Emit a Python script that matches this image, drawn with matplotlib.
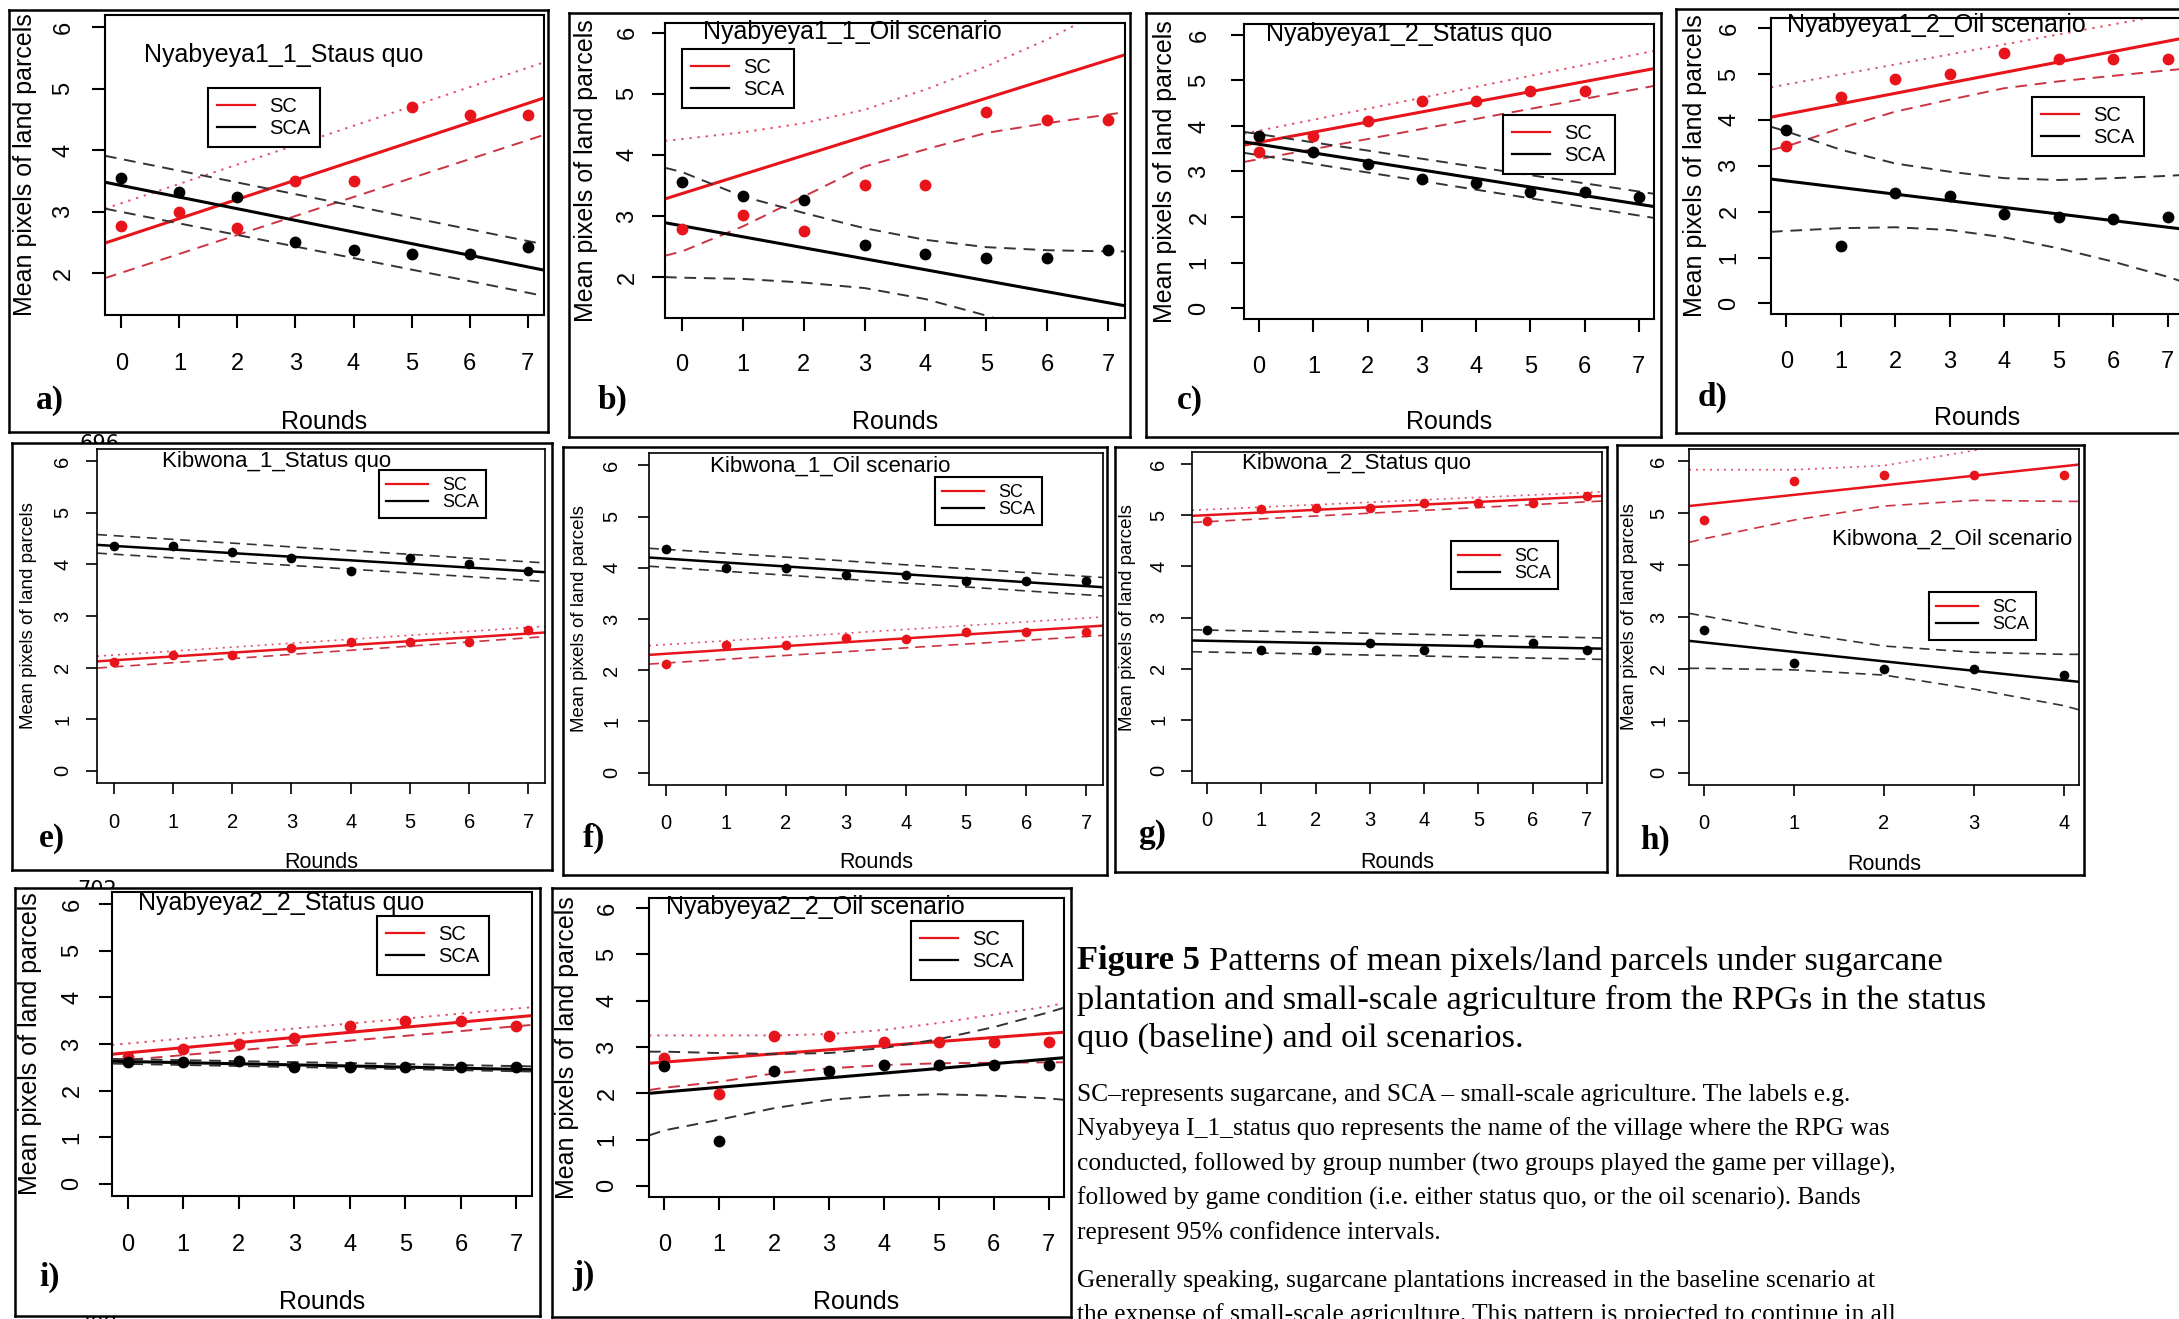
import matplotlib
matplotlib.use("Agg")
import matplotlib.pyplot as plt
from matplotlib.lines import Line2D

W, H = 2179, 1319

# ---- x positions ----
rounds = [0, 1, 2, 3, 4, 5, 6, 7]
rounds_short = [0, 1, 2, 3, 4]
rounds_c_sc = [0, 1, 2, 3, 4, 5, 6]
edge = [-0.28, 7.28]
edge_h = [-0.17, 4.17]
knots = [-0.28, 0, 1, 2, 3, 4, 5, 6, 7, 7.28]
knots_h = [-0.17, 0, 1, 2, 3, 4, 4.17]

titles = ["Nyabyeya1_1_Staus quo", "Nyabyeya1_1_Oil scenario",
          "Nyabyeya1_2_Status quo", "Nyabyeya1_2_Oil scenario",
          "Kibwona_1_Status quo", "Kibwona_1_Oil scenario",
          "Kibwona_2_Status quo", "Kibwona_2_Oil scenario",
          "Nyabyeya2_2_Status quo", "Nyabyeya2_2_Oil scenario"]
panel_labels = ["a)", "b)", "c)", "d)", "e)", "f)", "g)", "h)", "i)", "j)"]

# ---- values (SC = sugarcane, SCA = small-scale agric.) ----
# lines: 2 values -> at the x-limits, 10 (or 7) values -> at the knots
a_sc = [2.77, 2.99, 2.73, 3.50, 3.50, 4.70, 4.58, 4.57]
a_sca = [3.55, 3.32, 3.24, 2.50, 2.38, 2.31, 2.31, 2.42]
a_sc_fit, a_sc_hi, a_sc_lo = [2.49, 4.85], [3.05, 5.43], [1.92, 4.25]
a_sca_fit, a_sca_hi, a_sca_lo = [3.48, 2.05], [3.91, 2.47], [3.05, 1.63]

b_sc = [2.78, 3.01, 2.76, 3.50, 3.50, 4.70, 4.58, 4.58]
b_sca = [3.56, 3.33, 3.26, 2.52, 2.38, 2.32, 2.32, 2.44]
b_sc_fit = [3.28, 5.64]
b_sc_hi = [4.23, 4.26, 4.37, 4.52, 4.74, 5.07, 5.45, 5.89, 6.40, 6.60]
b_sc_lo = [2.35, 2.42, 2.83, 3.32, 3.81, 4.09, 4.36, 4.52, 4.66, 4.70]
b_sca_fit = [2.89, 1.53]
b_sca_hi = [3.79, 3.72, 3.32, 3.05, 2.80, 2.61, 2.49, 2.44, 2.42, 2.42]
b_sca_lo = [2.00, 1.99, 1.97, 1.91, 1.82, 1.64, 1.37, 1.05, 0.70, 0.60]

c_sc = [3.43, 3.77, 4.11, 4.54, 4.54, 4.77, 4.77]
c_sca = [3.77, 3.43, 3.16, 2.83, 2.75, 2.56, 2.56, 2.44]
c_sc_fit, c_sc_hi, c_sc_lo = [3.58, 5.26], [3.83, 5.65], [3.21, 4.88]
c_sca_fit, c_sca_hi, c_sca_lo = [3.65, 2.23], [3.87, 2.51], [3.41, 1.98]

d_sc = [3.44, 4.49, 4.89, 5.00, 5.45, 5.33, 5.33, 5.33]
d_sca = [3.78, 1.25, 2.40, 2.34, 1.95, 1.89, 1.83, 1.89]
d_sc_fit, d_sc_hi = [4.06, 5.78], [4.71, 6.36]
d_sc_lo = [3.35, 3.42, 3.82, 4.18, 4.44, 4.69, 4.84, 4.96, 5.08, 5.11]
d_sca_fit = [2.71, 1.62]
d_sca_hi = [3.85, 3.75, 3.35, 3.05, 2.87, 2.73, 2.69, 2.73, 2.78, 2.80]
d_sca_lo = [1.56, 1.58, 1.64, 1.66, 1.60, 1.44, 1.20, 0.91, 0.58, 0.47]

e_sc = [2.11, 2.25, 2.25, 2.38, 2.50, 2.50, 2.50, 2.73]
e_sca = [4.36, 4.36, 4.25, 4.12, 3.87, 4.12, 4.01, 3.87]
e_sc_fit, e_sc_hi, e_sc_lo = [2.12, 2.68], [2.22, 2.80], [1.99, 2.60]
e_sca_fit, e_sca_hi, e_sca_lo = [4.38, 3.85], [4.58, 4.03], [4.22, 3.67]

f_sc = [2.12, 2.50, 2.50, 2.63, 2.61, 2.74, 2.74, 2.74]
f_sca = [4.37, 3.99, 3.99, 3.86, 3.86, 3.75, 3.75, 3.75]
f_sc_fit, f_sc_hi, f_sc_lo = [2.30, 2.87], [2.48, 3.04], [2.12, 2.68]
f_sca_fit, f_sca_hi, f_sca_lo = [4.20, 3.62], [4.38, 3.81], [4.03, 3.45]

g_sc = [4.88, 5.12, 5.14, 5.14, 5.25, 5.25, 5.25, 5.38]
g_sca = [2.75, 2.37, 2.37, 2.50, 2.37, 2.50, 2.50, 2.37]
g_sc_fit, g_sc_hi, g_sc_lo = [4.99, 5.38], [5.10, 5.46], [4.86, 5.28]
g_sca_fit, g_sca_hi, g_sca_lo = [2.55, 2.39], [2.76, 2.60], [2.33, 2.18]

h_sc = [4.87, 5.62, 5.73, 5.73, 5.73]
h_sca = [2.75, 2.12, 2.00, 2.00, 1.88]
h_sc_fit = [5.14, 5.94]
h_sc_hi = [5.84, 5.84, 5.84, 5.92, 6.21, 6.55, 6.60]
h_sc_lo = [4.44, 4.51, 4.87, 5.14, 5.25, 5.23, 5.23]
h_sca_fit = [2.54, 1.75]
h_sca_hi = [3.07, 3.02, 2.70, 2.44, 2.32, 2.28, 2.28]
h_sca_lo = [2.01, 2.01, 1.98, 1.88, 1.61, 1.29, 1.21]

i_sc = [2.73, 2.89, 3.00, 3.13, 3.39, 3.50, 3.50, 3.38]
i_sca = [2.61, 2.61, 2.64, 2.50, 2.50, 2.50, 2.50, 2.50]
i_sc_fit, i_sc_hi, i_sc_lo = [2.78, 3.61], [2.98, 3.79], [2.63, 3.41]
i_sca_fit, i_sca_hi, i_sca_lo = [2.63, 2.45], [2.68, 2.52], [2.58, 2.41]

j_sc = [2.77, 1.99, 3.23, 3.23, 3.10, 3.10, 3.10, 3.10]
j_sca = [2.60, 0.98, 2.49, 2.49, 2.62, 2.62, 2.62, 2.62]
j_sc_fit = [2.65, 3.32]
j_sc_hi = [3.25, 3.25, 3.25, 3.25, 3.28, 3.37, 3.52, 3.70, 3.88, 3.95]
j_sc_lo = [2.07, 2.12, 2.25, 2.43, 2.54, 2.61, 2.65, 2.66, 2.67, 2.67]
j_sca_fit = [2.00, 2.77]
j_sca_hi = [2.90, 2.90, 2.87, 2.85, 2.87, 2.98, 3.17, 3.43, 3.75, 3.85]
j_sca_lo = [1.09, 1.20, 1.43, 1.68, 1.86, 1.95, 1.98, 1.95, 1.89, 1.86]

caption_head = ("Figure 5", "Patterns of mean pixels/land parcels under sugarcane")
caption_p1 = ["plantation and small-scale agriculture from the RPGs in the status",
              "quo (baseline) and oil scenarios."]
caption_p2 = ["SC\u2013represents sugarcane, and SCA \u2013 small-scale agriculture. The labels e.g.",
              "Nyabyeya I_1_status quo represents the name of the village where the RPG was",
              "conducted, followed by group number (two groups played the game per village),",
              "followed by game condition (i.e. either status quo, or the oil scenario). Bands",
              "represent 95% confidence intervals."]
caption_p3 = ["Generally speaking, sugarcane plantations increased in the baseline scenario at",
              "the expense of small-scale agriculture. This pattern is projected to continue in all"]

# ---- layout in pixels of the 2179x1319 picture ----
# box, plot area, ylim, x-ticklabel y, y-ticklabel x, xlabel y, ylabel x, title, legend corner, panel label
layout = {
    "a": dict(box=(9, 10, 548, 432), ax=(105, 15, 544, 315), ylim=(1.32, 6.2), xt=362, yt=61, xl=422, yl=25, tt=(284, 55), leg=(208, 88), lab=(50, 400), big=True),
    "b": dict(box=(569, 13, 1130, 437), ax=(665, 23, 1125, 318), ylim=(1.33, 6.16), xt=363, yt=625, xl=422, yl=586, tt=(852, 32), leg=(682, 49), lab=(612, 400), big=True),
    "c": dict(box=(1146, 13, 1661, 437), ax=(1244, 24, 1654, 319), ylim=(-0.24, 6.24), xt=365, yt=1197, xl=422, yl=1165, tt=(1409, 34), leg=(1503, 115), lab=(1190, 400), big=True),
    "d": dict(box=(1676, 9, 2200, 433), ax=(1771, 18, 2183, 314), ylim=(-0.23, 6.22), xt=360, yt=1727, xl=418, yl=1695, tt=(1936, 25), leg=(2032, 97), lab=(1713, 397), big=True),
    "e": dict(box=(12, 443, 552, 870), ax=(97, 449, 545, 783), ylim=(-0.24, 6.24), xt=820, yt=61, xl=863, yl=29, tt=(277, 462), leg=(379, 470), lab=(52, 838), big=False),
    "f": dict(box=(563, 447, 1107, 875), ax=(649, 453, 1103, 785), ylim=(-0.24, 6.24), xt=821, yt=610, xl=863, yl=579, tt=(830, 466), leg=(935, 477), lab=(594, 838), big=False),
    "g": dict(box=(1115, 447, 1607, 872), ax=(1192, 452, 1602, 783), ylim=(-0.24, 6.24), xt=818, yt=1157, xl=862, yl=1128, tt=(1357, 464), leg=(1451, 541), lab=(1152, 835), big=False),
    "h": dict(box=(1617, 445, 2084, 875), ax=(1689, 449, 2079, 785), ylim=(-0.24, 6.24), xt=821, yt=1657, xl=864, yl=1630, tt=(1952, 539), leg=(1929, 592), lab=(1655, 840), big=False),
    "i": dict(box=(15, 888, 540, 1316), ax=(112, 892, 532, 1196), ylim=(-0.26, 6.26), xt=1243, yt=70, xl=1302, yl=30, tt=(281, 903), leg=(377, 916), lab=(50, 1277), big=True),
    "j": dict(box=(552, 888, 1071, 1317), ax=(649, 898, 1064, 1197), ylim=(-0.24, 6.22), xt=1243, yt=605, xl=1302, yl=567, tt=(815, 907), leg=(911, 921), lab=(583, 1275), big=True),
}

RED = "#e8141c"
RED_DOT = "#e2506a"
RED_DASH = "#cc3444"
BLK_DASH = "#333333"
SANS = "Liberation Sans"
SERIF = "Liberation Serif"

plt.rcParams["font.family"] = SANS

fig = plt.figure(figsize=(W / 100, H / 100), dpi=100)
fig.patch.set_facecolor("white")


def frac_rect(r):
    x0, y0, x1, y1 = r
    return [x0 / W, 1 - y1 / H, (x1 - x0) / W, (y1 - y0) / H]


def draw_panel(key, title, label, sc_x, sc, sca_x, sca, sc_lines, sca_lines, xticks, xlim, edge_x, knot_x):
    L = layout[key]
    big = L["big"]
    if big:
        tick_fs, xlab_fs, ylab_fs, title_fs, leg_fs = 17, 18, 18, 18, 14.5
        ticklen, spine_lw, ms, fit_lw, band_lw = 13, 1.5, 8.5, 2.2, 1.4
        leg_kw = dict(handlelength=1.9, handletextpad=0.7, labelspacing=0.15, borderpad=0.45)
    else:
        tick_fs, xlab_fs, ylab_fs, title_fs, leg_fs = 14.5, 15.5, 13.5, 16, 13
        ticklen, spine_lw, ms, fit_lw, band_lw = 11, 1.2, 7, 1.8, 1.2
        leg_kw = dict(handlelength=2.3, handletextpad=0.8, labelspacing=0.0, borderpad=0.4)

    bg = fig.add_axes(frac_rect(L["box"]), zorder=0)
    bg.set_xticks([])
    bg.set_yticks([])
    for s in bg.spines.values():
        s.set_linewidth(1.8)

    ax = fig.add_axes(frac_rect(L["ax"]), zorder=1)
    x0, y0, x1, y1 = L["ax"]
    aw, ah = x1 - x0, y1 - y0

    styles = [dict(color=RED, lw=fit_lw), dict(color=RED_DOT, lw=band_lw, dashes=(1.2, 3)),
              dict(color=RED_DASH, lw=band_lw, dashes=(6, 4))]
    for vals, st in zip(sc_lines, styles):
        xs = edge_x if len(vals) == 2 else knot_x
        ax.plot(xs, vals, zorder=2, **st)
    styles = [dict(color="black", lw=fit_lw), dict(color=BLK_DASH, lw=band_lw, dashes=(6, 4)),
              dict(color=BLK_DASH, lw=band_lw, dashes=(6, 4))]
    for vals, st in zip(sca_lines, styles):
        xs = edge_x if len(vals) == 2 else knot_x
        ax.plot(xs, vals, zorder=2, **st)

    ax.plot(sc_x, sc, "o", color=RED, ms=ms, mec="none", zorder=3)
    ax.plot(sca_x, sca, "o", color="black", ms=ms, mec="none", zorder=3)

    ax.set_xlim(*xlim)
    ax.set_ylim(*L["ylim"])
    ax.set_xticks(xticks)
    ax.set_yticks([t for t in range(0, 7) if L["ylim"][0] <= t <= L["ylim"][1]])
    for s in ax.spines.values():
        s.set_linewidth(spine_lw)

    em = tick_fs * 100 / 72
    xpad = (L["xt"] - y1 - ticklen - 0.37 * em) * 0.72
    ypad = (x0 - ticklen - (L["yt"] + 0.57 * em)) * 0.72
    ax.tick_params(axis="both", direction="out", length=ticklen * 0.72, width=spine_lw,
                   labelsize=tick_fs)
    ax.tick_params(axis="x", pad=xpad)
    ax.tick_params(axis="y", pad=ypad, labelrotation=90)
    plt.setp(ax.get_yticklabels(), va="center")

    ax.set_xlabel("Rounds", fontsize=xlab_fs, va="center")
    ax.xaxis.set_label_coords(0.5, (y1 - L["xl"]) / ah)
    ax.set_ylabel("Mean pixels of land parcels", fontsize=ylab_fs, va="center", ha="center")
    ax.yaxis.set_label_coords((L["yl"] - x0) / aw, 0.5)

    tx, ty = L["tt"]
    ax.text((tx - x0) / aw, (y1 - ty) / ah, title, transform=ax.transAxes,
            ha="center", va="center", fontsize=title_fs, clip_on=False, zorder=4)

    lx, ly = L["leg"]
    handles = [Line2D([], [], color=RED, lw=1.6), Line2D([], [], color="black", lw=1.6)]
    leg = ax.legend(handles, ["SC", "SCA"], loc="upper left",
                    bbox_to_anchor=((lx - x0) / aw, (y1 - ly) / ah), bbox_transform=ax.transAxes,
                    borderaxespad=0, frameon=True, fancybox=False, framealpha=1,
                    edgecolor="black", fontsize=leg_fs, **leg_kw)
    leg.get_frame().set_linewidth(1.5)
    leg.set_zorder(5)

    px, py = L["lab"]
    fig.text(px / W, 1 - py / H, label, ha="center", va="center", fontsize=24,
             fontweight="bold", family=SERIF, zorder=6)


panels = [
    ("a", rounds, a_sc, rounds, a_sca, (a_sc_fit, a_sc_hi, a_sc_lo), (a_sca_fit, a_sca_hi, a_sca_lo)),
    ("b", rounds, b_sc, rounds, b_sca, (b_sc_fit, b_sc_hi, b_sc_lo), (b_sca_fit, b_sca_hi, b_sca_lo)),
    ("c", rounds_c_sc, c_sc, rounds, c_sca, (c_sc_fit, c_sc_hi, c_sc_lo), (c_sca_fit, c_sca_hi, c_sca_lo)),
    ("d", rounds, d_sc, rounds, d_sca, (d_sc_fit, d_sc_hi, d_sc_lo), (d_sca_fit, d_sca_hi, d_sca_lo)),
    ("e", rounds, e_sc, rounds, e_sca, (e_sc_fit, e_sc_hi, e_sc_lo), (e_sca_fit, e_sca_hi, e_sca_lo)),
    ("f", rounds, f_sc, rounds, f_sca, (f_sc_fit, f_sc_hi, f_sc_lo), (f_sca_fit, f_sca_hi, f_sca_lo)),
    ("g", rounds, g_sc, rounds, g_sca, (g_sc_fit, g_sc_hi, g_sc_lo), (g_sca_fit, g_sca_hi, g_sca_lo)),
    ("h", rounds_short, h_sc, rounds_short, h_sca, (h_sc_fit, h_sc_hi, h_sc_lo), (h_sca_fit, h_sca_hi, h_sca_lo)),
    ("i", rounds, i_sc, rounds, i_sca, (i_sc_fit, i_sc_hi, i_sc_lo), (i_sca_fit, i_sca_hi, i_sca_lo)),
    ("j", rounds, j_sc, rounds, j_sca, (j_sc_fit, j_sc_hi, j_sc_lo), (j_sca_fit, j_sca_hi, j_sca_lo)),
]

for n, (key, scx, sc, scax, sca, scl, scal) in enumerate(panels):
    if key == "h":
        draw_panel(key, titles[n], panel_labels[n], scx, sc, scax, sca, scl, scal,
                   rounds_short, edge_h, edge_h, knots_h)
    else:
        draw_panel(key, titles[n], panel_labels[n], scx, sc, scax, sca, scl, scal,
                   rounds, edge, edge, knots)

# line numbers of the page peeking out between the panels
for txt, x, y in [("696", 100, 434), ("702", 97, 880), ("708", 97, 1315)]:
    fig.text(x / W, 1 - y / H, txt, ha="center", va="top", fontsize=15,
             family="DejaVu Sans", zorder=-1)

# ---- caption on the right ----
renderer = fig.canvas.get_renderer()


def width_px(s, **kw):
    t = fig.text(0, 0, s, **kw)
    w = t.get_window_extent(renderer=renderer).width
    t.remove()
    return w


cx = 1077
base = 18
wb = width_px(caption_head[0], family=SERIF, fontweight="bold", fontsize=base)
wr = width_px(caption_head[1], family=SERIF, fontsize=base)
gap = 0.28 * base * 100 / 72
fs1 = base * 864 / (wb + wr + gap)
wb *= fs1 / base
gap *= fs1 / base
fig.text(cx / W, 1 - 961 / H, caption_head[0], family=SERIF, fontweight="bold",
         fontsize=fs1, ha="left", va="center")
fig.text((cx + wb + gap) / W, 1 - 961 / H, caption_head[1], family=SERIF,
         fontsize=fs1, ha="left", va="center")
for line, y in zip(caption_p1, [1000, 1038]):
    fig.text(cx / W, 1 - y / H, line, family=SERIF, fontsize=fs1, ha="left", va="center")

w2 = width_px(caption_p2[1], family=SERIF, fontsize=base)
fs2 = base * 817 / w2
for line, y in zip(caption_p2, [1095, 1129, 1164, 1198, 1233]):
    fig.text(cx / W, 1 - y / H, line, family=SERIF, fontsize=fs2, ha="left", va="center")
for line, y in zip(caption_p3, [1281, 1315]):
    fig.text(cx / W, 1 - y / H, line, family=SERIF, fontsize=fs2, ha="left", va="center")

fig.savefig("out.png", dpi=100)
